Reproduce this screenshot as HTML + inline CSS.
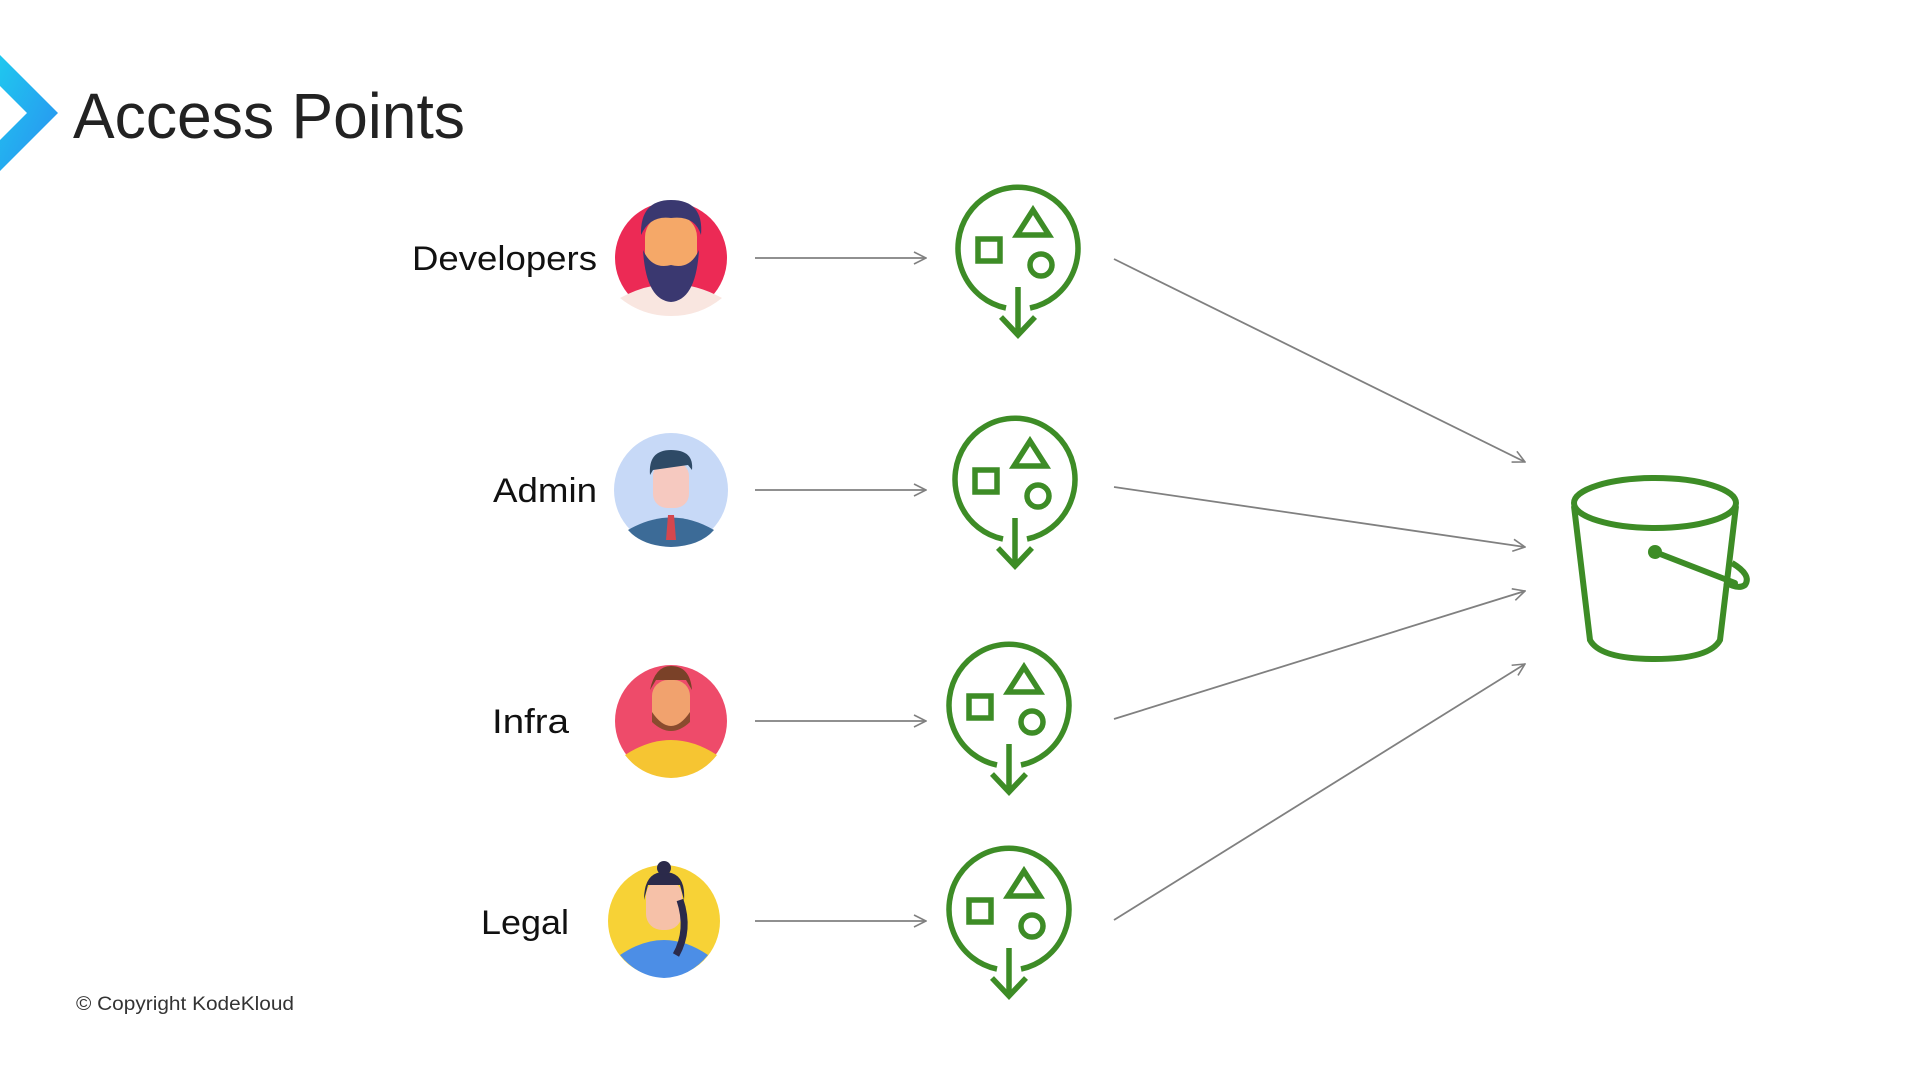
<!DOCTYPE html>
<html><head><meta charset="utf-8"><style>
html,body{margin:0;padding:0;background:#fff;width:1920px;height:1080px;overflow:hidden;font-family:"Liberation Sans",sans-serif}
</style></head><body>
<svg width="1920" height="1080" viewBox="0 0 1920 1080" xmlns="http://www.w3.org/2000/svg">
<defs>
<linearGradient id="cg" x1="0" y1="0" x2="1" y2="1"><stop offset="0" stop-color="#1fc8ef"/><stop offset="1" stop-color="#2a8ff0"/></linearGradient>
<g id="ap" fill="none" stroke="#3d8c26" stroke-width="5.5">
<path d="M -12 58 A 60 61 0 1 1 12 58"/>
<rect x="-40" y="-11" width="22" height="22"/>
<path d="M15 -40 L31 -15 L-1 -15 Z" stroke-linejoin="miter"/>
<circle cx="23" cy="15" r="11"/>
<line x1="0" y1="37" x2="0" y2="85"/>
<path d="M-17 67 L0 85 L17 67"/>
</g>
<marker id="ah" markerWidth="14" markerHeight="14" refX="13" refY="7" orient="auto" markerUnits="userSpaceOnUse">
<path d="M1 1 L13 7 L1 13" fill="none" stroke="#808080" stroke-width="1.6"/></marker>
</defs>
<polygon points="0,55 58,113 0,171 0,140 27,113 0,86" fill="url(#cg)"/>
<text x="73" y="138" font-size="64" fill="#222" textLength="392" lengthAdjust="spacingAndGlyphs">Access Points</text>

<g font-size="34" fill="#111">
<text x="412" y="270" textLength="185" lengthAdjust="spacingAndGlyphs">Developers</text>
<text x="493" y="502" textLength="104" lengthAdjust="spacingAndGlyphs">Admin</text>
<text x="492" y="733" textLength="77" lengthAdjust="spacingAndGlyphs">Infra</text>
<text x="481" y="934" textLength="88" lengthAdjust="spacingAndGlyphs">Legal</text>
</g>

<g>
<circle cx="671" cy="258" r="56" fill="#ec2a55"/>
<path d="M620 298 Q671 270 722 298 Q700 316 671 316 Q642 316 620 298Z" fill="#f9e6e0"/>
<rect x="645" y="215" width="52" height="60" rx="22" fill="#f5a868"/>
<path d="M643 250 Q646 300 671 302 Q696 300 699 250 Q690 270 671 265 Q652 270 643 250Z" fill="#3a3870"/>
<path d="M641 235 Q640 200 671 200 Q704 200 701 235 Q695 215 671 218 Q650 215 641 235Z" fill="#3a3870"/>

<circle cx="671" cy="490" r="57" fill="#c7d9f7"/>
<path d="M628 530 Q671 505 714 530 Q700 546 671 547 Q642 546 628 530Z" fill="#3c6b97"/>
<rect x="653" y="462" width="36" height="46" rx="14" fill="#f6c9c0"/>
<path d="M650 475 Q648 450 671 450 Q694 450 692 470 L688 465 L653 470Z" fill="#2e4a66"/>
<path d="M668 515 L674 515 L676 540 L666 540Z" fill="#d4474e"/>

<circle cx="671" cy="721" r="56" fill="#ee4b6a"/>
<path d="M625 755 Q671 725 717 755 Q700 777 671 778 Q642 777 625 755Z" fill="#f6c532"/>
<rect x="652" y="680" width="38" height="50" rx="16" fill="#f1a26e"/>
<path d="M652 712 Q671 740 690 712 L690 722 Q671 740 652 722Z" fill="#8a4b2e"/>
<path d="M650 690 Q655 666 671 666 Q690 666 692 690 L686 680 L656 680Z" fill="#7a4128"/>

<circle cx="664" cy="921" r="56" fill="#f7d236"/>
<path d="M620 955 Q664 925 708 955 Q690 977 664 978 Q638 977 620 955Z" fill="#4c8ee6"/>
<rect x="646" y="880" width="36" height="50" rx="16" fill="#f6c1a8"/>
<path d="M644 900 Q644 872 664 872 Q686 872 684 900 L680 885 L648 885Z" fill="#2b2a4a"/>
<circle cx="664" cy="868" r="7" fill="#2b2a4a"/>
<path d="M680 900 Q690 930 676 955" stroke="#2b2a4a" stroke-width="7" fill="none"/>
</g>

<g stroke="#808080" stroke-width="1.8" marker-end="url(#ah)">
<line x1="755" y1="258" x2="926" y2="258"/>
<line x1="755" y1="490" x2="926" y2="490"/>
<line x1="755" y1="721" x2="926" y2="721"/>
<line x1="755" y1="921" x2="926" y2="921"/>
<line x1="1114" y1="259" x2="1525" y2="462"/>
<line x1="1114" y1="487" x2="1525" y2="547"/>
<line x1="1114" y1="719" x2="1525" y2="591"/>
<line x1="1114" y1="920" x2="1525" y2="664"/>
</g>

<use href="#ap" x="1018" y="250"/>
<use href="#ap" x="1015" y="481"/>
<use href="#ap" x="1009" y="707"/>
<use href="#ap" x="1009" y="911"/>

<g fill="none" stroke="#3d8c26" stroke-width="6">
<ellipse cx="1655" cy="503" rx="81" ry="25"/>
<path d="M1574 506 L1590 640 Q1600 659 1655 659 Q1710 659 1720 640 L1736 506"/>
<path d="M1655 552 L1735 583" stroke-linecap="round"/>
<path d="M1732 563 Q1752 575 1745 585 Q1738 590 1725 582"/>
</g>
<circle cx="1655" cy="552" r="7" fill="#3d8c26"/>

<text x="76" y="1010" font-size="19" fill="#333" textLength="218" lengthAdjust="spacingAndGlyphs">© Copyright KodeKloud</text>
</svg>
</body></html>
